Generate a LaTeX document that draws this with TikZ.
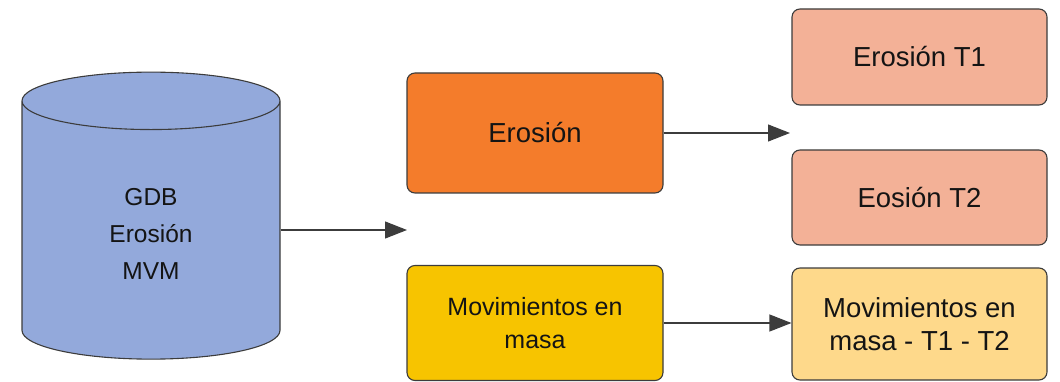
\documentclass[tikz,border=0pt]{standalone}
\usepackage{fontspec}
\setmainfont{Liberation Sans}
\usetikzlibrary{shapes.geometric,arrows.meta}
\definecolor{dbblue}{HTML}{93A9DB}
\definecolor{erosorange}{HTML}{F47C2B}
\definecolor{masayellow}{HTML}{F7C400}
\definecolor{salmon}{HTML}{F3B197}
\definecolor{lightyellow}{HTML}{FED98B}
\definecolor{edgegray}{HTML}{3C3C3C}
\definecolor{darktext}{HTML}{141414}

\begin{document}
\begin{tikzpicture}[x=1pt,y=-1pt,
  box/.style={draw=edgegray,line width=1.1pt,rounded corners=8pt,minimum width=256pt,
    align=center,text=darktext,font=\fontsize{27.5}{33}\selectfont},
  flow/.style={-{Triangle[length=22pt,width=17pt]},line width=1.1pt,draw=edgegray,fill=edgegray}]
\useasboundingbox (0,0) rectangle (1060,382);
% database on the left
\node[cylinder,shape border rotate=90,draw=edgegray,line width=1.1pt,fill=dbblue,
  minimum width=258pt,minimum height=287pt,shape aspect=0.64,align=center,
  text=darktext,font=\fontsize{24.5}{37}\selectfont] (gdb) at (151,233.5) {GDB\\Erosión\\MVM};

% middle column
\node[box,fill=erosorange,minimum height=120pt] (eros) at (535,133) {Erosión};
\node[box,fill=masayellow,minimum height=115pt,font=\fontsize{25}{33}\selectfont] (masa) at (535,323) {Movimientos en\\masa};

% right column
\node[box,fill=salmon,minimum width=255pt,minimum height=96pt] (erosA) at (919.5,57) {Erosión T1};
\node[box,fill=salmon,minimum width=255pt,minimum height=95pt] (erosB) at (919.5,197.5) {Eosión T2};
\node[box,fill=lightyellow,minimum width=255pt,minimum height=112pt] (masaT) at (919.5,324) {Movimientos en\\masa - T1 - T2};

\coordinate (split) at (407,230);
\coordinate (erosend) at (790,133);
\draw[flow] (gdb.east |- split) -- (split);
\draw[flow] (eros.east) -- (erosend);
\draw[flow] (masa.east) -- (masa.east -| masaT.west);
\end{tikzpicture}
\end{document}
